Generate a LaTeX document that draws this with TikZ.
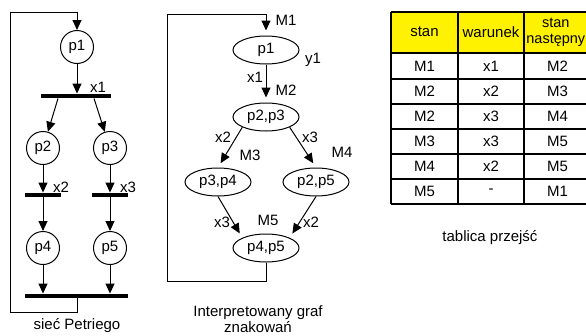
\documentclass[tikz,border=0pt]{standalone}
\usepackage{fontspec}
\setmainfont{Liberation Sans}
\usetikzlibrary{shapes.geometric,arrows.meta,positioning}

\begin{document}
\begin{tikzpicture}[
    x=1pt, y=-1pt,
    font=\fontsize{15}{16}\selectfont,
    place/.style={circle, draw=black, line width=1pt, minimum size=33pt, inner sep=0pt},
    bar/.style={rectangle, fill=black, minimum height=4.5pt, inner sep=0pt},
    state/.style={ellipse, draw=black, line width=1pt, minimum width=66pt, minimum height=28pt, inner sep=0pt},
    lbl/.style={inner sep=0pt},
    cell/.style={inner sep=0pt, align=center},
    arrow/.style={-{Triangle[length=10pt,width=9pt]}, line width=1pt},
    garrow/.style={arrow, shorten >=5pt}
]
    \clip (0,0) rectangle (586,335);

    % siec Petriego
    \node[place] (p1) at (77,47) {p1};
    \node[bar, minimum width=70pt] (t1) at (76,96) {};
    \node[place] (p2) at (43,148) {p2};
    \node[place] (p3) at (110,148) {p3};
    \node[bar, minimum width=36pt] (t2) at (43,195) {};
    \node[bar, minimum width=36pt] (t3) at (110,195) {};
    \node[place] (p4) at (43,248) {p4};
    \node[place] (p5) at (110,248) {p5};
    \node[bar, minimum width=103pt] (t4) at (76.5,296) {};
    \coordinate (pl) at (10,312);
    \coordinate (pt) at (10,12);

    \draw[arrow] (p1.south) -- (p1.south |- t1.north);
    \draw[arrow] ([xshift=-18pt]t1.south) -- (p2);
    \draw[arrow] ([xshift=18pt]t1.south) -- (p3);
    \draw[arrow] (p2.south) -- (t2.north);
    \draw[arrow] (p3.south) -- (t3.north);
    \draw[arrow] (t2.south) -- (p4.north);
    \draw[arrow] (t3.south) -- (p5.north);
    \draw[arrow] (p4.south) -- (p4.south |- t4.north);
    \draw[arrow] (p5.south) -- (p5.south |- t4.north);
    \draw[arrow] (p1 |- t4.south) -- (p1 |- pl) -- (pl) -- (pt) -- (pt -| p1) -- (p1.north);

    \node[lbl] (lx1) at (98,87) {x1};
    \node[lbl] (lx2) at (61,187) {x2};
    \node[lbl] (lx3) at (128,187) {x3};
    \node (petri) at (77,326) {sieć Petriego};

    % graf znakowan
    \node[state] (m1) at (266,50) {p1};
    \node[state] (m2) at (266,117) {p2,p3};
    \node[state] (m3) at (218,182) {p3,p4};
    \node[state] (m4) at (316,182) {p2,p5};
    \node[state] (m5) at (266,248) {p4,p5};
    \coordinate (ml) at (167,281);
    \coordinate (mt) at (167,14);

    \draw[garrow] (m5.south) -- (m5.south |- ml) -- (ml) -- (mt) -- (mt -| m1) -- (m1.north);
    \draw[garrow] (m1.south) -- (m2.north);
    \draw[garrow] (m2.south west) -- (m3.north);
    \draw[garrow] (m2.south east) -- (m4.north);
    \draw[garrow] (m3.south) -- (m5.north west);
    \draw[garrow] (m4.south) -- (m5.north east);

    \node[lbl] (lm1) at (286,20) {M1};
    \node[lbl] (ly1) at (313,60) {y1};
    \node[lbl] (lgx1) at (255,77) {x1};
    \node[lbl] (lm2) at (286,90) {M2};
    \node[lbl] (lgx2) at (223,137) {x2};
    \node[lbl] (lgx3) at (310,137) {x3};
    \node[lbl] (lm3) at (250,155) {M3};
    \node[lbl] (lm4) at (342,152) {M4};
    \node[lbl] (lgx3b) at (222,222) {x3};
    \node[lbl] (lm5) at (268,220) {M5};
    \node[lbl] (lgx2b) at (311,222) {x2};
    \node[cell] (graf) at (258,319) {Interpretowany graf\\znakowań};

    % tablica przejsc
    \fill[yellow] (391,12) rectangle (591,53);
    \foreach \y in {12,53,79,104,129,154,179,204}
        \draw[line width=1.2pt] (391,\y) -- (591,\y);
    \foreach \x in {391,458,524,591}
        \draw[line width=1.2pt] (\x,12) -- (\x,204);

    \node[cell] (h1) at (424.5,32) {stan};
    \node[cell] (h2) at (491,32) {warunek};
    \node[cell, font=\fontsize{14.5}{16}\selectfont] (h3) at (555.8,32) {stan\\następny};
    \foreach \st/\wa/\nx [count=\i] in {M1/x1/M2, M2/x2/M3, M2/x3/M4, M3/x3/M5, M4/x2/M5, M5/-/M1} {
        \node[cell] (s\i) at (424.5,41+25*\i) {\st};
        \node[cell] (w\i) at (491,41+25*\i) {\wa};
        \node[cell] (n\i) at (557.5,41+25*\i) {\nx};
    }
    \node (tab) at (490,238) {tablica przejść};
\end{tikzpicture}
\end{document}
